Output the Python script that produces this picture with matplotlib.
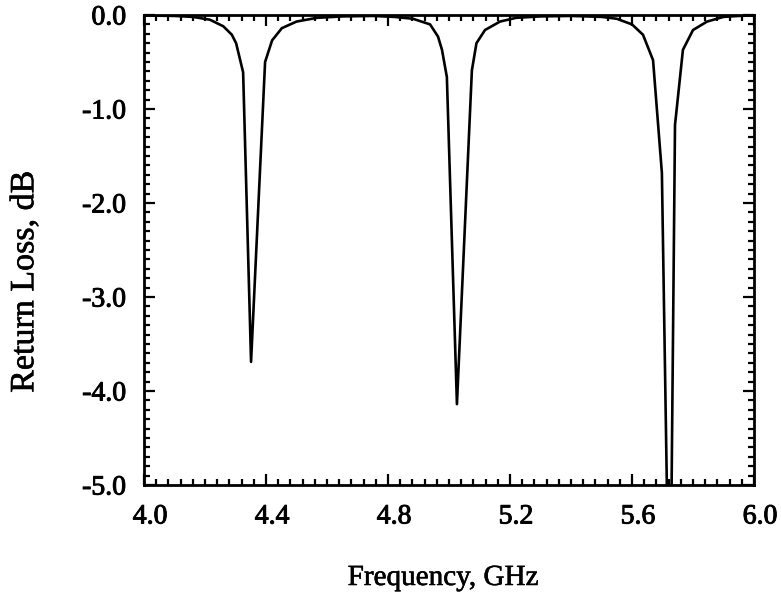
import matplotlib
matplotlib.use("Agg")
import matplotlib.pyplot as plt
import matplotlib.transforms as mtransforms
import matplotlib.patheffects as pe
from matplotlib.ticker import MultipleLocator

freq_ghz = [4.00, 4.10, 4.16, 4.216, 4.26, 4.288, 4.302, 4.325, 4.351, 4.397,
            4.42, 4.452, 4.50, 4.567, 4.65, 4.75, 4.82, 4.882, 4.938, 4.964,
            4.977, 4.993, 5.026, 5.075, 5.09, 5.118, 5.167, 5.22, 5.30, 5.40,
            5.50, 5.55, 5.60, 5.636, 5.669, 5.698, 5.724, 5.741, 5.767, 5.80,
            5.846, 5.90, 5.95, 6.00]
return_loss_db = [-0.005, -0.01, -0.02, -0.05, -0.12, -0.21, -0.30, -0.61, -3.69, -0.50,
                  -0.27, -0.14, -0.07, -0.03, -0.015, -0.01, -0.02, -0.04, -0.10, -0.23,
                  -0.37, -0.66, -4.14, -0.59, -0.30, -0.16, -0.07, -0.03, -0.015, -0.01,
                  -0.02, -0.04, -0.10, -0.21, -0.48, -1.68, -7.0, -1.17, -0.37, -0.16,
                  -0.07, -0.02, -0.01, -0.005]
x_ticks = [4.0, 4.4, 4.8, 5.2, 5.6, 6.0]
x_tick_labels = ["4.0", "4.4", "4.8", "5.2", "5.6", "6.0"]
y_ticks = [0.0, -1.0, -2.0, -3.0, -4.0, -5.0]
y_tick_labels = ["0.0", "-1.0", "-2.0", "-3.0", "-4.0", "-5.0"]

plt.rcParams['font.family'] = ['Liberation Serif', 'DejaVu Serif']

fig = plt.figure(figsize=(7.81, 5.95), dpi=100)
ax = fig.add_axes([144/781, 1-485/595, (754-144)/781, (485-15)/595])
ax.plot(freq_ghz, return_loss_db, color='black', lw=1.9)
ax.set_xlim(4.0, 6.0)
ax.set_ylim(-5.0, 0.0)
ax.set_xticks(x_ticks)
ax.set_xticklabels(x_tick_labels)
ax.set_yticks(y_ticks)
ax.set_yticklabels(y_tick_labels)
ax.xaxis.set_minor_locator(MultipleLocator(0.04))
ax.yaxis.set_minor_locator(MultipleLocator(0.1))
ax.tick_params(which='both', direction='in', top=True, right=True, width=1.6, color='black')
ax.tick_params(axis='x', which='major', length=8, labelsize=20, pad=14)
ax.tick_params(axis='y', which='major', length=8, labelsize=20, pad=13)
ax.tick_params(which='minor', length=4)
shift = mtransforms.ScaledTranslation(6/100, 0, fig.dpi_scale_trans)
stroke = [pe.withStroke(linewidth=0.7, foreground='black')]
for lab in ax.get_xticklabels():
    lab.set_transform(lab.get_transform() + shift)
    lab.set_path_effects(stroke)
for lab in ax.get_yticklabels():
    lab.set_path_effects(stroke)
for s in ax.spines.values():
    s.set_linewidth(2.0)
xl = ax.set_xlabel("Frequency, GHz", fontsize=21, va='center')
yl = ax.set_ylabel("Return Loss, dB", fontsize=24.5, va='center')
xl.set_path_effects([pe.withStroke(linewidth=0.4, foreground='black')])
yl.set_path_effects([pe.withStroke(linewidth=0.4, foreground='black')])
ax.xaxis.set_label_coords(0.49, (485-578)/470)
ax.yaxis.set_label_coords((25-144)/610, (485-282)/470)
fig.savefig("out.png", dpi=100)
